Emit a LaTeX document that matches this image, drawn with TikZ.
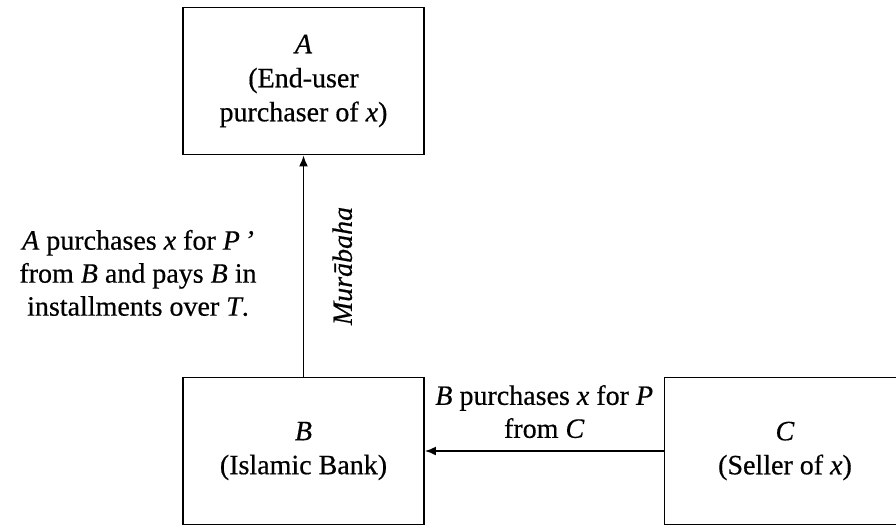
\documentclass[tikz,border=0pt]{standalone}
\usepackage{fontspec}
\setmainfont[FakeBold=0.5]{Liberation Serif}
\usetikzlibrary{arrows.meta}
\begin{document}
\begin{tikzpicture}[x=1pt,y=-1pt,
  party/.style={draw,line width=1.8pt,minimum width=241pt,minimum height=147pt,
    align=center,inner sep=0pt,font=\fontsize{28}{34}\selectfont},
  note/.style={align=center,inner sep=0pt,font=\fontsize{28}{33}\selectfont},
  flow/.style={line width=1.8pt,-{Latex[length=11pt,width=9pt]}}]
\useasboundingbox (0,0) rectangle (896,525);
\clip (0,0) rectangle (896,525);
% the three parties
\node[party] (A) at (303.5,81) {\textit{A}\\(End-user\\purchaser of \textit{x})};
\node[party] (B) at (303.5,451) {\textit{B}\\(Islamic Bank)};
\node[party] (C) at (785,451) {\textit{C}\\(Seller of \textit{x})};
% flows between them
\draw[flow] (B) -- node[note,right=28pt,rotate=90,anchor=north] (m) {\textit{Murābaha}} (A);
\draw[flow] (C) -- node[note,above=12pt] (bc) {\textit{B} purchases \textit{x} for \textit{P}\\from \textit{C}} (B);
% terms of the resale to A
\node[note] (ab) at (138,273) {\textit{A} purchases \textit{x} for \textit{P}\,\textit{\char"0027}\\from \textit{B} and pays \textit{B} in\\installments over \textit{T}.};
\end{tikzpicture}
\end{document}
